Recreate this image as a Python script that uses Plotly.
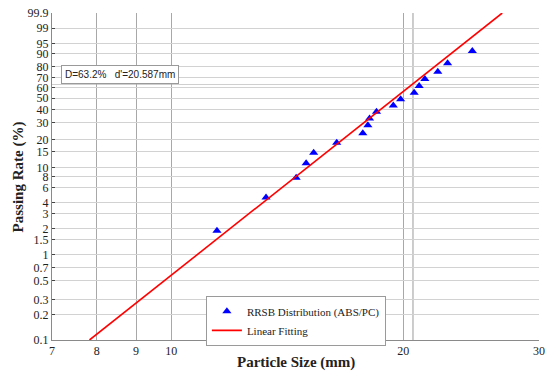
import numpy as np
import plotly.graph_objects as go

# ---- data ----
size_mm = [11.46, 13.27, 14.52, 14.96, 15.30, 16.39, 17.72, 17.99, 18.08, 18.46,
           19.41, 19.84, 20.66, 20.97, 21.33, 22.17, 22.83, 24.58]
passing_pct = [1.9, 4.6, 7.7, 11.2, 14.6, 18.7, 23.5, 28.3, 32.8, 38.1,
               43.3, 48.8, 55.1, 61.7, 68.7, 75.7, 83.0, 91.6]
fit_x = [7.83, 26.88]
fit_pct = [0.1, 99.9]
d_prime = 20.587
D_pct = 63.2

y_tick_labels = ["0.1", "0.2", "0.3", "0.5", "0.7", "1", "1.5", "2", "3", "4", "6", "8",
                 "10", "15", "20", "30", "40", "50", "60", "70", "80", "90", "95", "99", "99.9"]
x_tick_vals = [7, 8, 9, 10, 20, 30]


def rr(p):
    p = np.asarray(p, dtype=float) / 100.0
    return np.log(-np.log(1.0 - p))


y_tick_vals = rr([float(t) for t in y_tick_labels])
ymin, ymax = float(rr([0.1])[0]), float(rr([99.9])[0])

SERIF = "Liberation Serif"

fig = go.Figure()
fig.add_trace(go.Scatter(x=size_mm, y=rr(passing_pct), mode="markers",
                         name="RRSB Distribution (ABS/PC)",
                         marker=dict(symbol="triangle-up", color="#0000ff", size=8)))
fig.add_trace(go.Scatter(x=fit_x, y=rr(fit_pct), mode="lines", name="Linear Fitting",
                         line=dict(color="#ff0000", width=1.6)))

# reference lines at d' and D
fig.add_shape(type="line", xref="x", yref="y", x0=d_prime, x1=d_prime, y0=ymin, y1=ymax,
              line=dict(color="#9a9a9a", width=1), layer="below")
fig.add_shape(type="line", xref="x", yref="y", x0=7, x1=30,
              y0=float(rr([D_pct])[0]), y1=float(rr([D_pct])[0]),
              line=dict(color="#cfcfcf", width=1), layer="below")

fig.add_annotation(xref="paper", yref="paper", x=0.018, y=0.842, xanchor="left", yanchor="top",
                   text="D=63.2%   d'=20.587mm", showarrow=False,
                   font=dict(family="Liberation Sans", size=10, color="#222"),
                   bgcolor="white", bordercolor="#9a9a9a", borderwidth=1, borderpad=3)

# axis titles as annotations for exact placement
fig.add_annotation(xref="paper", yref="paper", x=0.5, y=-0.07, xanchor="center", yanchor="middle",
                   text="<b>Particle Size (mm)</b>", showarrow=False,
                   font=dict(family=SERIF, size=15, color="#222"))
fig.add_annotation(xref="paper", yref="paper", x=-0.068, y=0.5, xanchor="center", yanchor="middle",
                   text="<b>Passing Rate (%)</b>", showarrow=False, textangle=-90,
                   font=dict(family=SERIF, size=15, color="#222"))

fig.update_xaxes(type="log", range=[np.log10(7), np.log10(30)], automargin=False,
                 tickvals=x_tick_vals, ticktext=[str(v) for v in x_tick_vals],
                 showgrid=True, gridcolor="#a8a8a8", gridwidth=1,
                 showline=True, linecolor="#8a8a8a", linewidth=1, mirror=False,
                 ticks="", zeroline=False,
                 tickfont=dict(family=SERIF, size=12, color="#222"))
fig.update_yaxes(range=[ymin, ymax], tickvals=y_tick_vals, ticktext=y_tick_labels,
                 automargin=False,
                 showgrid=True, gridcolor="#d2d2d2", gridwidth=1,
                 showline=True, linecolor="#8a8a8a", linewidth=1,
                 ticks="inside", ticklen=3, tickcolor="#444", zeroline=False,
                 tickfont=dict(family=SERIF, size=12, color="#222"))

fig.update_layout(width=550, height=377, margin=dict(l=52, r=11, t=13, b=37),
                  plot_bgcolor="white", paper_bgcolor="white",
                  legend=dict(x=0.316, y=0.135, xanchor="left", yanchor="top",
                              bgcolor="white", bordercolor="#9a9a9a", borderwidth=1,
                              font=dict(family=SERIF, size=11, color="#222"),
                              tracegroupgap=0, itemwidth=30))

fig.write_html("out.html", config={"displayModeBar": False},
               post_script="document.body.style.margin='0px';document.body.style.overflow='hidden';")
